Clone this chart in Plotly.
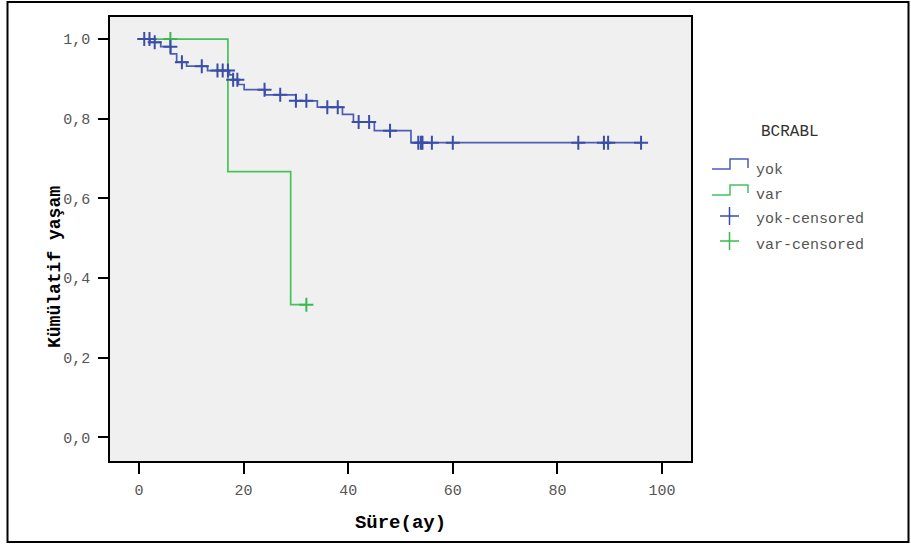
import plotly.graph_objects as go

# ---------------- data ----------------
# Group "yok": step (event) times and survival after each step
yok_times = [0, 2.1, 4.15, 6.05, 7.2, 9.1, 13.1, 17.3, 18.0, 19.0, 20.1, 24.1, 30.0, 34.1, 38.9, 41.0, 45.0, 52.0, 96.0]
yok_surv = [1.0, 0.992, 0.981, 0.963, 0.942, 0.932, 0.921, 0.910, 0.898, 0.886, 0.873, 0.860, 0.845, 0.829, 0.811, 0.792, 0.770, 0.740, 0.740]
yok_censored = [1, 2, 3, 6, 8.2, 12, 15, 16, 17, 18, 18.8, 24, 27, 30, 32, 36, 38, 42, 44, 48, 53.4, 53.9, 54.2, 56, 60, 84, 88.9, 89.7, 96]

# Group "var"
var_times = [0, 17, 29, 32]
var_surv = [1.0, 0.667, 0.333, 0.333]
var_censored = [6, 32]

x_ticks = [0, 20, 40, 60, 80, 100]
y_ticks = [0.0, 0.2, 0.4, 0.6, 0.8, 1.0]
y_tick_labels = ["0,0", "0,2", "0,4", "0,6", "0,8", "1,0"]

legend_title = "BCRABL"
legend_labels = ["yok", "var", "yok-censored", "var-censored"]

# ---------------- styling ----------------
BLUE_LINE = "#4b5fb4"
BLUE_MARK = "#3a4ea6"
GREEN_LINE = "#47c25b"
GREEN_MARK = "#3bb84f"
MONO = "Liberation Mono, Courier New, monospace"

W, H = 911, 544
ML, MR, MT, MB = 110, 220, 17, 83
PW, PH = W - ML - MR, H - MT - MB


def step_value(times, surv, t):
    val = surv[0]
    for tt, ss in zip(times, surv):
        if tt <= t:
            val = ss
    return val


def fx(px):
    return (px - ML) / PW


def fy(py):
    return (H - MB - py) / PH


fig = go.Figure()

fig.add_trace(go.Scatter(x=var_times, y=var_surv, mode="lines", line=dict(color=GREEN_LINE, width=1.7, shape="hv"),
                         name="var", showlegend=False))
fig.add_trace(go.Scatter(x=yok_times, y=yok_surv, mode="lines", line=dict(color=BLUE_LINE, width=1.7, shape="hv"),
                         name="yok", showlegend=False))
fig.add_trace(go.Scatter(x=var_censored, y=[step_value(var_times, var_surv, t) for t in var_censored], mode="markers",
                         marker=dict(symbol="cross-thin", size=10, line=dict(color=GREEN_MARK, width=2)),
                         name="var-censored", showlegend=False))
fig.add_trace(go.Scatter(x=yok_censored, y=[step_value(yok_times, yok_surv, t) for t in yok_censored], mode="markers",
                         marker=dict(symbol="cross-thin", size=10, line=dict(color=BLUE_MARK, width=2)),
                         name="yok-censored", showlegend=False))

shapes = []
# outer frame
shapes.append(dict(type="rect", xref="paper", yref="paper", x0=fx(7.5), x1=fx(908.5), y0=fy(542), y1=fy(2),
                   line=dict(color="black", width=2), layer="below"))


def path(points):
    d = "M " + " L ".join(f"{fx(x):.5f},{fy(y):.5f}" for x, y in points)
    return d


# legend symbols
shapes.append(dict(type="path", xref="paper", yref="paper",
                   path=path([(712, 169), (730, 169), (730, 159), (748, 159), (748, 168)]),
                   line=dict(color=BLUE_LINE, width=1.5)))
shapes.append(dict(type="path", xref="paper", yref="paper",
                   path=path([(712, 195), (730, 195), (730, 185), (748, 185), (748, 193)]),
                   line=dict(color=GREEN_LINE, width=1.5)))
for cy, col in [(216, BLUE_MARK), (241, GREEN_MARK)]:
    shapes.append(dict(type="line", xref="paper", yref="paper", x0=fx(720), x1=fx(739), y0=fy(cy), y1=fy(cy),
                       line=dict(color=col, width=1.5)))
    shapes.append(dict(type="line", xref="paper", yref="paper", x0=fx(729.5), x1=fx(729.5), y0=fy(cy - 9), y1=fy(cy + 9),
                       line=dict(color=col, width=1.5)))

annotations = [dict(text=legend_title, xref="paper", yref="paper", x=fx(790), y=fy(132), xanchor="center",
                    yanchor="middle", showarrow=False, font=dict(family=MONO, size=16, color="#333333"))]
for lab, cy in zip(legend_labels, [170, 195, 219, 245]):
    annotations.append(dict(text=lab, xref="paper", yref="paper", x=fx(754), y=fy(cy), xanchor="left",
                            yanchor="middle", showarrow=False, font=dict(family=MONO, size=15, color="#555555")))
# y axis title (placed as in the reference, centred on the chart rather than the plot area)
annotations.append(dict(text="<b>Kümülatif yaşam</b>", xref="paper", yref="paper", x=fx(55), y=fy(267),
                        xanchor="center", yanchor="middle", textangle=-90, showarrow=False,
                        font=dict(family=MONO, size=18, color="black")))

fig.update_layout(
    width=W, height=H,
    margin=dict(l=ML, r=MR, t=MT, b=MB),
    paper_bgcolor="white",
    plot_bgcolor="#f0f0f0",
    shapes=shapes,
    annotations=annotations,
    showlegend=False,
)

fig.update_xaxes(
    range=[-5.55, 105.55], tickvals=x_ticks, ticks="outside", ticklen=11, tickwidth=1.5, tickcolor="black",
    showline=True, linecolor="black", linewidth=1.5, mirror=True, showgrid=False, zeroline=False,
    tickfont=dict(family=MONO, size=15, color="#555555"), ticklabelstandoff=3,
    title=dict(text="<b>Süre(ay)</b>", font=dict(family=MONO, size=19, color="black"), standoff=16),
)
fig.update_yaxes(
    range=[-0.0595, 1.0555], tickvals=y_ticks, ticktext=y_tick_labels, ticks="outside", ticklen=10, tickwidth=1.5,
    tickcolor="black", showline=True, linecolor="black", linewidth=1.5, mirror=True, showgrid=False, zeroline=False,
    tickfont=dict(family=MONO, size=15, color="#555555"), ticklabelstandoff=5,
)

fig.write_html("out.html")
